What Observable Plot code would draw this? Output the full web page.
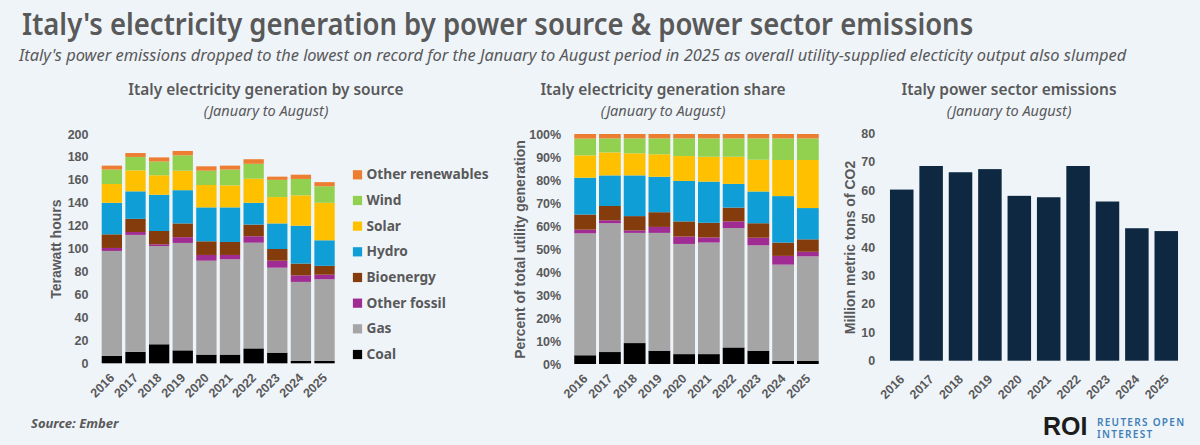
<!DOCTYPE html>
<html><head><meta charset="utf-8">
<script src="https://cdn.jsdelivr.net/npm/d3@7"></script>
<script src="https://cdn.jsdelivr.net/npm/@observablehq/plot@0.6"></script>
<style>
html,body{margin:0;padding:0;background:#eff4f9;width:1200px;height:445px;overflow:hidden}
.t{position:absolute;white-space:nowrap;color:#595959;font-family:"Noto Sans",sans-serif}
.c{text-align:center}
.n{transform:scaleX(.965)}
.p{position:absolute}
.p svg{background:transparent;display:block;overflow:visible}
.p [aria-label="y-axis label"] text{font-size:14px;font-weight:700}
.p [aria-label="x-axis tick label"] text,.p [aria-label="y-axis tick label"] text{font-size:12.5px;font-weight:700}
</style></head><body>
<div class="t" style="left:22px;top:3px;font-size:30px;font-weight:600;line-height:42px;transform:scaleX(.915);transform-origin:left">Italy's electricity generation by power source &amp; power sector emissions</div>
<div class="t" style="left:19px;top:43px;font-size:17px;font-style:italic;line-height:24px;transform:scaleX(.966);transform-origin:left">Italy's power emissions dropped to the lowest on record for the January to August period in 2025 as overall utility-supplied electicity output also slumped</div>
<div class="t c n" style="left:66px;width:400px;top:78px;font-size:16px;font-weight:600;line-height:22px">Italy electricity generation by source</div>
<div class="t c" style="left:66px;width:400px;top:100px;font-size:14.5px;font-style:italic;line-height:20px">(January to August)</div>
<div class="t c n" style="left:463px;width:400px;top:78px;font-size:16px;font-weight:600;line-height:22px">Italy electricity generation share</div>
<div class="t c" style="left:463px;width:400px;top:100px;font-size:14.5px;font-style:italic;line-height:20px">(January to August)</div>
<div class="t c n" style="left:809px;width:400px;top:78px;font-size:16px;font-weight:600;line-height:22px">Italy power sector emissions</div>
<div class="t c" style="left:809px;width:400px;top:100px;font-size:14.5px;font-style:italic;line-height:20px">(January to August)</div>
<div class="t" style="left:31px;top:414px;font-size:13px;font-weight:700;font-style:italic;line-height:18px">Source: Ember</div>
<div class="t" style="left:1043px;top:411px;font-size:25px;font-weight:800;color:#1c1c1c;line-height:30px;font-family:'Liberation Sans',sans-serif">ROI</div>
<div class="t" style="left:1097px;top:416px;font-size:10px;font-weight:600;color:#3f7fb8;letter-spacing:1.3px;line-height:12px">REUTERS OPEN<br>INTEREST</div>
<div id="a" class="p" style="left:30px;top:120px"></div>
<div id="l" class="p" style="left:345px;top:160px"></div>
<div id="b" class="p" style="left:500px;top:120px"></div>
<div id="c" class="p" style="left:830px;top:120px"></div>
<script>
const years = ["2016","2017","2018","2019","2020","2021","2022","2023","2024","2025"];
const sources = ["Coal","Gas","Other fossil","Bioenergy","Hydro","Solar","Wind","Other renewables"];
const colors = ["#000000","#a5a5a5","#a02b93","#843c0c","#0f9ed5","#ffc000","#92d050","#ed7d31"];

// cumulative tops, TWh
const twhCoal   = [6.4,10,16.6,11.3,7.6,7.6,13,9.3,2,2];
const twhGas    = [98,112,102.3,105,89.5,90.7,105.2,83.4,71,73.3];
const twhFossil = [100.6,114.5,103.8,110,94.5,94.5,110.8,89.5,76.7,77.3];
const twhBio    = [112.5,126,115.4,122,106.4,105.8,121,99.7,87,85];
const twhHydro  = [140,150,147,151,136,136,140,122,120,107.3];
const twhSolar  = [156.4,168.3,164,168,155.5,155.2,161,145,146.5,140];
const twhWind   = [169,180,176,181.4,168,169,174,160,160.8,154.4];
const twhOther  = [172.4,183.4,179.6,185.2,171.8,172.4,178,162.8,164.5,158];

// cumulative tops, percent
const pctCoal   = [3.8,5.2,9.1,5.8,4.3,4.3,7.2,5.8,1.3,1.3];
const pctGas    = [56.8,61.2,57,57,52.2,52.8,59.1,51.6,43.2,46.8];
const pctFossil = [58.4,62.5,58.1,59.6,55.4,55,62,54.9,47,48.8];
const pctBio    = [65,68.7,64.3,66,62,61.4,68,61.2,52.8,54.2];
const pctHydro  = [81,82,82,81.4,79.6,79.3,78.3,75,73,67.8];
const pctSolar  = [90.7,92,91.6,91.2,90.4,90.1,90.1,88.8,88.7,88.7];
const pctWind   = [98,98.1,98.1,98.1,98.1,98.1,98.1,98.1,98.1,98.1];
const pctOther  = [100,100,100,100,100,100,100,100,100,100];

const emissions = [60.2,68.5,66.3,67.4,58,57.5,68.5,56,46.6,45.6];

const grey = "#595959";
const fontFamily = "'Liberation Sans',Arial,sans-serif";
function rows(cols){
  const out=[];
  years.forEach((year,i)=>cols.forEach((col,j)=>{
    out.push({year,source:sources[j],y1:j?cols[j-1][i]:0,y2:col[i]});
  }));
  return out;
}
function chart({data,yDomain,yTicks,yFormat,label,labelOffset,width,height,ml,mr,mt,mb,padding,fill,colorScale,xPad,yPad}){
  return Plot.plot({
    width,height,marginLeft:ml,marginRight:mr,marginTop:mt,marginBottom:mb,
    style:{background:"transparent",color:grey,fontFamily},
    x:{domain:years,padding,round:false,label:null},
    y:{domain:yDomain,label:null},
    color:colorScale,
    marks:[
      Plot.axisX({tickRotate:-45,tickSize:0,tickPadding:xPad,label:null,fill:grey}),
      Plot.axisY({ticks:yTicks,tickFormat:yFormat,tickSize:0,tickPadding:yPad,label,labelAnchor:"center",labelArrow:"none",labelOffset,fill:grey}),
      Plot.rectY(data,{x:"year",y1:"y1",y2:"y2",fill,stroke:null})
    ]
  });
}
const colorScale = {domain:sources,range:colors};
const twh = rows([twhCoal,twhGas,twhFossil,twhBio,twhHydro,twhSolar,twhWind,twhOther]);
const pct = rows([pctCoal,pctGas,pctFossil,pctBio,pctHydro,pctSolar,pctWind,pctOther]);
document.getElementById("a").append(chart({
  data:twh,yDomain:[0,200],yTicks:d3.range(0,201,20),label:"Terawatt hours",labelOffset:48,xPad:12,yPad:10.4,
  width:320,height:300,ml:68.4,mr:12,mt:14,mb:56.7,padding:0.14,fill:"source",colorScale}));
document.getElementById("b").append(chart({
  data:pct,yDomain:[0,100],yTicks:d3.range(0,101,10),yFormat:d=>d+"%",label:"Percent of total utility generation",labelOffset:57,xPad:12,yPad:10.6,
  width:330,height:300,ml:71.3,mr:8.3,mt:14,mb:56,padding:0.12,fill:"source",colorScale}));
document.getElementById("c").append(chart({
  data:years.map((year,i)=>({year,y1:0,y2:emissions[i]})),yDomain:[0,80],yTicks:d3.range(0,81,10),label:"Million metric tons of CO2",labelOffset:40,xPad:16,yPad:9.4,
  width:360,height:300,ml:54.1,mr:6.1,mt:13.3,mb:59.3,padding:0.2,fill:()=>"#0e2841"}));
const legendOrder = sources.slice().reverse();
document.getElementById("l").append(Plot.plot({
  width:160,height:205,margin:0,marginTop:14.3,marginBottom:11,
  style:{background:"transparent",color:grey,fontFamily:"'Noto Sans',sans-serif"},
  x:{axis:null,domain:[0,1],range:[0,160]},
  y:{type:"point",domain:legendOrder,padding:0,round:false,axis:null},
  color:colorScale,
  marks:[
    Plot.dot(legendOrder,{y:d=>d,frameAnchor:"left",dx:12,symbol:"square",r:5.2,fill:d=>d,stroke:null}),
    Plot.text(legendOrder,{y:d=>d,text:d=>d,frameAnchor:"left",dx:21,fontSize:13.7,fontWeight:700,fill:grey})
  ]
}));
</script>
</body></html>
